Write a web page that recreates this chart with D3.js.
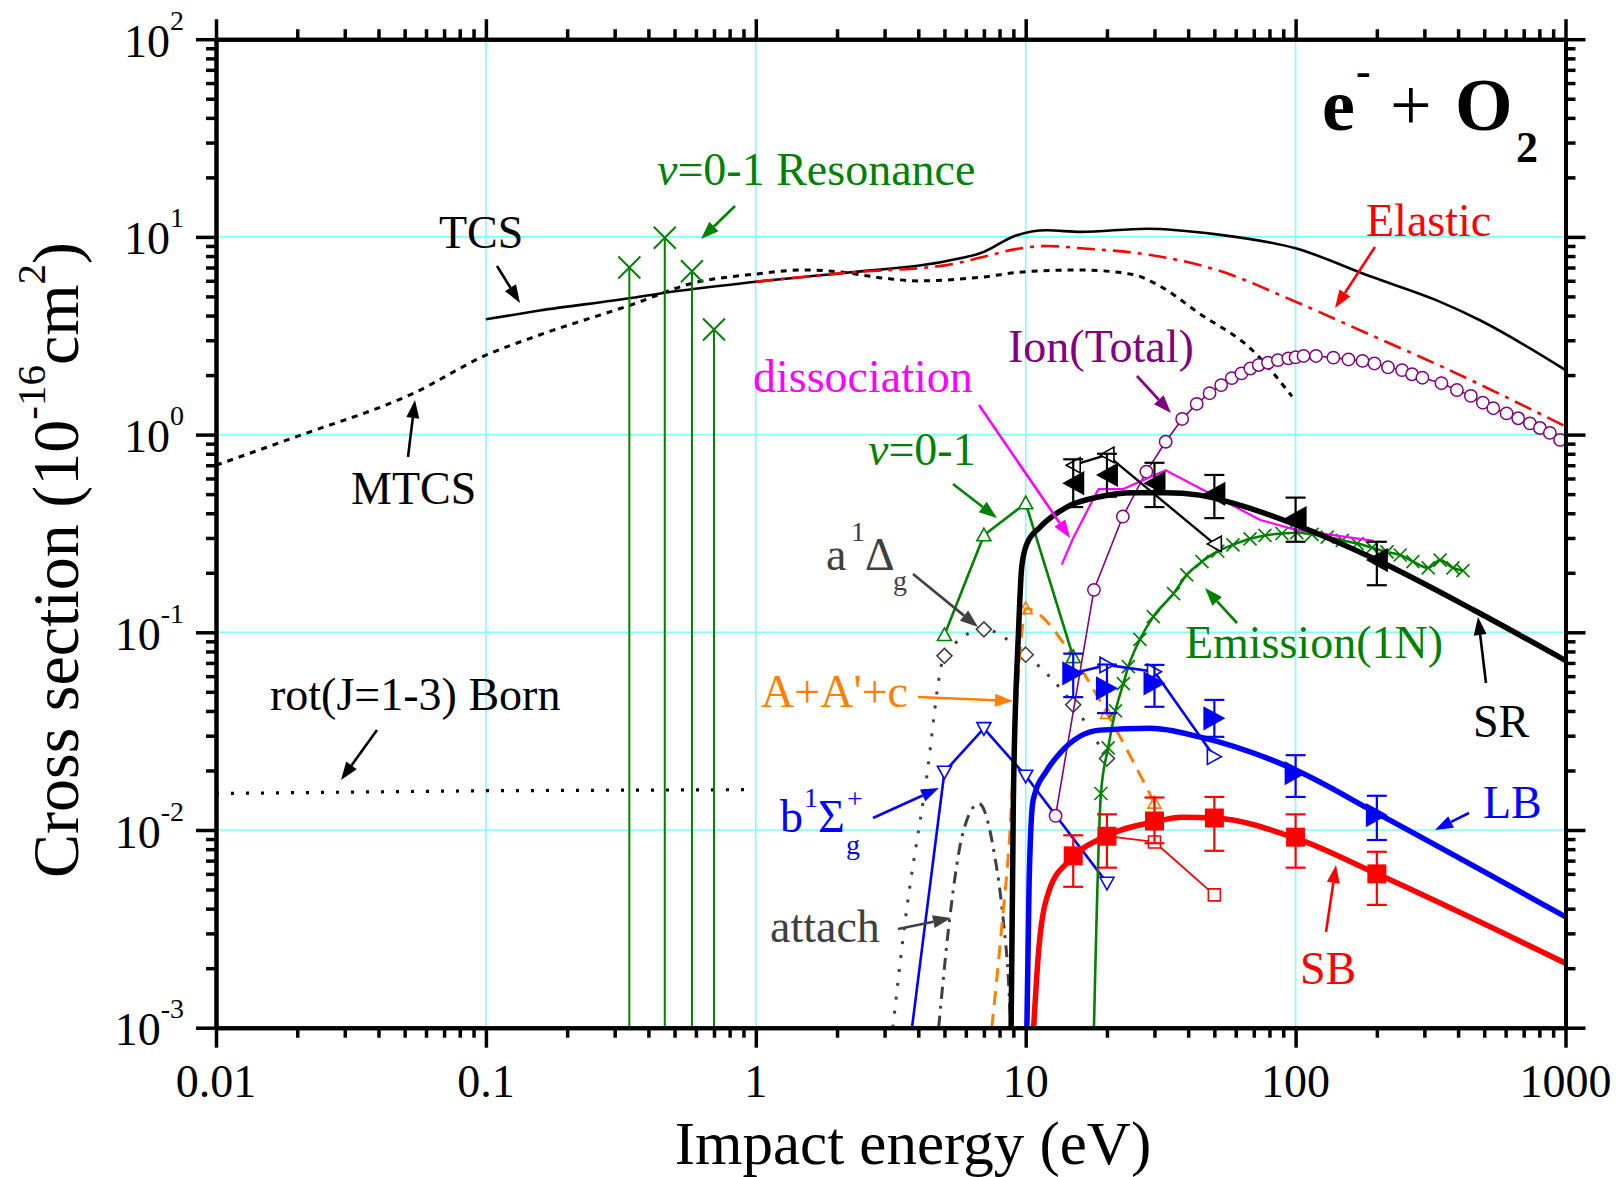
<!DOCTYPE html>
<html>
<head>
<meta charset="utf-8">
<script src="https://cdn.jsdelivr.net/npm/d3@7"></script>
<style>
body { margin: 0; background: #fff; }
svg { display: block; }
text { font-family: "Liberation Serif", "Times New Roman", serif; }
</style>
</head>
<body>
<div id="chart"></div>
<script>
// ---- data: [energy eV, cross section 1e-16 cm2] ----
const tcs = [[0.1,3.83],[0.158,4.24],[0.35,4.92],[0.46,5.22],[1,5.93],[2.2,6.6],[5.1,7.55],[7,8.4],[9.1,10.1],[12,10.8],[16,10.6],[28,11.0],[51,10.3],[100,8.75],[190,6.3],[330,4.8],[480,3.8],[1000,2.12]];
const mtcs = [[0.01,0.70],[0.02,0.98],[0.054,1.62],[0.1,2.52],[0.158,3.19],[0.35,4.56],[0.58,5.82],[1,6.49],[1.5,6.8],[2,6.67],[3,6.18],[4,5.99],[6.8,6.25],[10,6.67],[16,6.8],[25,6.45],[31,5.7],[44,4.1],[69,2.68],[97,1.56]];
const elastic = [[1,5.93],[2.2,6.6],[5.1,7.2],[7,7.94],[9.1,8.65],[12,9.0],[16,8.76],[29,8.1],[51,6.81],[100,4.7],[190,3.19],[350,2.2],[1000,1.1]];
const rotBorn = [[0.01,0.0153],[0.1,0.0158],[1,0.016]];
const resonance = [[0.34,7.0],[0.46,9.9],[0.58,6.7],[0.70,3.4]];
const vib01 = [[5,0.097],[7,0.31],[10,0.45],[15,0.075]];
const a1DgCurve = [[3.22,0.001],[3.57,0.0034],[4.25,0.0166],[5,0.076],[7,0.1035],[10,0.077],[15,0.043],[20,0.023]];
const a1DgPts = [[5,0.076],[7,0.1035],[10,0.077],[15,0.043],[20,0.023]];
const b1Sg = [[3.79,0.001],[5,0.0197],[7,0.0327],[10,0.0188],[20,0.0054]];
const attach = [[4.76,0.001],[5.22,0.0035],[5.89,0.01],[6.71,0.0136],[7.65,0.0076],[8.26,0.0035],[8.63,0.00174],[8.8,0.001]];
const aacCurve = [[7.49,0.001],[8.13,0.0031],[8.75,0.01],[9.27,0.0455],[9.67,0.099],[10,0.132],[15,0.075],[20,0.039],[30,0.0137]];
const aacPts = [[10,0.132],[15,0.075],[20,0.039],[30,0.0137]];
const dissoc = [[13.6,0.22],[15,0.30],[18.6,0.53],[23,0.53],[33,0.66],[74,0.37],[100,0.33],[195,0.29]];
const ionTotal = [[12.9,0.0118],[17.9,0.164],[22.9,0.385],[28,0.65],[33,0.92],[38,1.2],[43,1.43],[48,1.62],[53,1.78],[58,1.93],[63,2.04],[68,2.16],[73,2.25],[79,2.31],[86,2.38],[94,2.43],[100,2.46],[107,2.5],[119,2.5],[138,2.45],[157,2.4],[177,2.36],[196,2.29],[220,2.19],[248,2.12],[270,2.02],[295,1.94],[347,1.82],[396,1.68],[446,1.57],[494,1.45],[540,1.36],[605,1.28],[668,1.21],[738,1.14],[804,1.08],[875,1.02],[955,0.94]];
const emission = [[17.9,0.001],[19,0.0153],[20.2,0.026],[21.5,0.04],[23,0.055],[24,0.067],[26.5,0.092],[29.7,0.12],[35.3,0.157],[39.5,0.195],[45,0.228],[51.5,0.257],[58.6,0.277],[67.8,0.297],[77,0.309],[89,0.316],[101,0.319],[115,0.313],[131,0.303],[149,0.292],[169,0.281],[192,0.268],[218,0.255],[244,0.246],[272,0.228],[310,0.212],[343,0.232],[383,0.212],[417,0.205]];
const srCurve = [[8.83,0.001],[9.0,0.014],[9.4,0.099],[9.67,0.215],[10.1,0.28],[11.3,0.34],[14.2,0.43],[18.8,0.485],[25,0.508],[33,0.508],[44,0.494],[62,0.44],[100,0.35],[200,0.232],[455,0.13],[1000,0.072]];
const srPts = [[15,0.568],[20,0.625],[30,0.568],[50,0.501],[100,0.378],[200,0.232]];
const srErr = [[0.43,0.75],[0.485,0.80],[0.43,0.72],[0.378,0.625],[0.287,0.48],[0.173,0.287]];
const srOld = [[15,0.70],[20,0.79],[50,0.28]];
const lbCurve = [[10.1,0.001],[10.3,0.0056],[10.66,0.0142],[12,0.0201],[13.4,0.0245],[18.8,0.032],[29,0.0327],[44,0.0296],[100,0.0201],[199,0.0122],[1000,0.00364]];
const lbPts = [[15,0.062],[20,0.0521],[30,0.0552],[50,0.0367],[100,0.0194],[200,0.0119]];
const lbErr = [[0.047,0.078],[0.039,0.0687],[0.042,0.0684],[0.0296,0.0455],[0.0147,0.0239],[0.0089,0.0149]];
const lbOld = [[15,0.062],[20,0.0684],[30,0.0632],[50,0.0235]];
const sbCurve = [[10.7,0.001],[11.2,0.00257],[12.25,0.005],[14.6,0.00705],[19.8,0.0093],[30,0.011],[38,0.0116],[50,0.0115],[100,0.0091],[200,0.006],[1000,0.00212]];
const sbPts = [[15,0.0074],[20,0.0093],[30,0.0111],[50,0.0115],[100,0.0092],[200,0.006]];
const sbErr = [[0.00516,0.0094],[0.00645,0.012],[0.00857,0.0146],[0.00785,0.0147],[0.00645,0.012],[0.00418,0.00776]];
const sbOld = [[20,0.0093],[30,0.0087],[50,0.0047]];

const xTicks = [0.01, 0.1, 1, 10, 100, 1000];
const xTickLabels = ["0.01", "0.1", "1", "10", "100", "1000"];
const yExps = [-3, -2, -1, 0, 1, 2];

// ---- layout ----
const W = 1620, H = 1177;
const L = 216, R = 1565.5, T = 39.2, B = 1027.7;
const GREEN = "#008000", RED = "#ff0000", BLUE = "#0000ff", MAG = "#ff00ff",
      PURP = "#800080", ORANGE = "#ff8000", GRAY = "#404040";

const svg = d3.select("#chart").append("svg")
    .attr("width", W).attr("height", H);

const x = d3.scaleLog().domain([0.01, 1000]).range([L, R]);
const y = d3.scaleLog().domain([0.001, 100]).range([B, T]);

// minor tick positions
const minorX = [], minorY = [];
for (let d = -2; d < 3; d++) for (let k = 2; k < 10; k++) minorX.push(k * 10 ** d);
for (let d = -3; d < 2; d++) for (let k = 2; k < 10; k++) minorY.push(k * 10 ** d);

// grid
const grid = svg.append("g").attr("stroke", "#80ffff").attr("stroke-width", 1.6);
xTicks.forEach(v => grid.append("line").attr("x1", x(v)).attr("x2", x(v)).attr("y1", T).attr("y2", B));
yExps.forEach(e => grid.append("line").attr("y1", y(10 ** e)).attr("y2", y(10 ** e)).attr("x1", L).attr("x2", R));

svg.append("clipPath").attr("id", "clip").append("rect")
    .attr("x", L).attr("y", T).attr("width", R - L).attr("height", B - T);
const plot = svg.append("g").attr("clip-path", "url(#clip)");

const lineLin = d3.line().x(d => x(d[0])).y(d => y(d[1]));
const lineSmooth = d3.line().x(d => x(d[0])).y(d => y(d[1])).curve(d3.curveMonotoneX);

function drawLine(data, gen, color, width, dash) {
    plot.append("path").datum(data)
        .attr("d", gen)
        .attr("fill", "none")
        .attr("stroke", color)
        .attr("stroke-width", width)
        .attr("stroke-dasharray", dash || null)
        .attr("stroke-linejoin", "round");
}

function shape(type, s) {
    const h = s / 2;
    switch (type) {
        case "triL": return `M${-h},0L${h},${-h * 1.1}L${h},${h * 1.1}Z`;
        case "triR": return `M${h},0L${-h},${-h * 1.1}L${-h},${h * 1.1}Z`;
        case "triU": return `M0,${-h}L${h},${h * 0.8}L${-h},${h * 0.8}Z`;
        case "triD": return `M0,${h}L${h},${-h * 0.8}L${-h},${-h * 0.8}Z`;
        case "dia": return `M0,${-h}L${h},0L0,${h}L${-h},0Z`;
        case "sq": return `M${-h},${-h}H${h}V${h}H${-h}Z`;
        case "x": return `M${-h},${-h}L${h},${h}M${-h},${h}L${h},${-h}`;
    }
}

function drawMarkers(data, type, size, fill, stroke, sw) {
    plot.append("g").selectAll("path").data(data).join("path")
        .attr("transform", d => `translate(${x(d[0])},${y(d[1])})`)
        .attr("d", shape(type, size))
        .attr("fill", fill)
        .attr("stroke", stroke)
        .attr("stroke-width", sw);
}

function drawErr(pts, err, color) {
    const g = plot.append("g").attr("stroke", color).attr("stroke-width", 2.2);
    pts.forEach((p, i) => {
        const cx = x(p[0]), y0 = y(err[i][0]), y1 = y(err[i][1]);
        g.append("line").attr("x1", cx).attr("x2", cx).attr("y1", y0).attr("y2", y1);
        g.append("line").attr("x1", cx - 10).attr("x2", cx + 10).attr("y1", y0).attr("y2", y0);
        g.append("line").attr("x1", cx - 10).attr("x2", cx + 10).attr("y1", y1).attr("y2", y1);
    });
}

// ---- series ----
drawLine(rotBorn, lineLin, "#000", 3.2, "3,12");
drawLine(mtcs, lineSmooth, "#000", 3, "6,6");
drawLine(tcs, lineSmooth, "#000", 2.6);
drawLine(elastic, lineSmooth, RED, 2.6, "18,7,4,7");

// v=0-1 resonance sticks
resonance.forEach(d => {
    plot.append("line").attr("x1", x(d[0])).attr("x2", x(d[0]))
        .attr("y1", y(d[1])).attr("y2", B).attr("stroke", GREEN).attr("stroke-width", 2);
});
drawMarkers(resonance, "x", 22, "none", GREEN, 2);

drawLine(a1DgCurve, lineSmooth, GRAY, 3, "3,11");
drawMarkers(a1DgPts, "dia", 15, "#fff", GRAY, 1.6);
drawLine(attach, lineSmooth, GRAY, 3, "12,7,3,7");
drawLine(aacCurve, lineSmooth, ORANGE, 3, "14,9");
drawMarkers(aacPts, "triU", 13, "none", ORANGE, 1.6);

drawLine(vib01, lineLin, GREEN, 2.6);
drawMarkers(vib01, "triU", 14, "#fff", GREEN, 1.6);
drawLine(b1Sg, lineLin, BLUE, 2.6);
drawMarkers(b1Sg.slice(1), "triD", 14, "#fff", BLUE, 1.6);

drawLine(emission, lineSmooth, GREEN, 2.6);
drawMarkers(emission.slice(1), "x", 13, "none", GREEN, 1.7);

drawLine(ionTotal, lineLin, PURP, 1.6);
plot.append("g").selectAll("circle").data(ionTotal).join("circle")
    .attr("cx", d => x(d[0])).attr("cy", d => y(d[1])).attr("r", 6.2)
    .attr("fill", "#fff").attr("stroke", PURP).attr("stroke-width", 1.5);

drawLine(dissoc, lineLin, MAG, 2.2);

// SB
drawLine(sbCurve, lineSmooth, RED, 5.5);
drawLine(sbOld, lineLin, RED, 1.8);
drawMarkers(sbOld.slice(1), "sq", 12, "#fff", RED, 1.6);
drawErr(sbPts, sbErr, RED);
drawMarkers(sbPts, "sq", 19, RED, RED, 0);

// LB
drawLine(lbCurve, lineSmooth, BLUE, 5.5);
drawLine(lbOld, lineLin, BLUE, 2.6);
drawMarkers(lbOld.slice(1), "triR", 14, "#fff", BLUE, 1.6);
drawErr(lbPts, lbErr, BLUE);
drawMarkers(lbPts, "triR", 22, BLUE, BLUE, 0);

// SR
drawLine(srCurve, lineSmooth, "#000", 5.5);
drawLine(srOld, lineLin, "#000", 2.4);
drawMarkers(srOld, "triL", 14, "#fff", "#000", 1.6);
drawErr(srPts, srErr, "#000");
drawMarkers(srPts, "triL", 22, "#000", "#000", 0);

// ---- axes ----
function styleAxis(g) {
    g.selectAll("path.domain").attr("stroke", "#000").attr("stroke-width", 4);
    g.selectAll(".tick line").attr("stroke", "#000").attr("stroke-width", 3.5);
    g.selectAll(".tick text").remove();
}
const axes = [
    [d3.axisBottom(x), `translate(0,${B})`, minorX, xTicks],
    [d3.axisTop(x), `translate(0,${T})`, minorX, xTicks],
    [d3.axisLeft(y), `translate(${L},0)`, minorY, yExps.map(e => 10 ** e)],
    [d3.axisRight(y), `translate(${R},0)`, minorY, yExps.map(e => 10 ** e)]
];
axes.forEach(([ax, tr, minor, major]) => {
    svg.append("g").attr("transform", tr)
        .call(ax.tickValues(minor).tickSize(10).tickSizeOuter(0).tickFormat(""))
        .call(styleAxis);
    svg.append("g").attr("transform", tr)
        .call(ax.tickValues(major).tickSize(20).tickSizeOuter(0).tickFormat(""))
        .call(styleAxis);
});

// tick labels
xTicks.forEach((v, i) => {
    svg.append("text").attr("x", x(v)).attr("y", B + 69)
        .attr("text-anchor", "middle").attr("font-size", 46).text(xTickLabels[i]);
});
yExps.forEach(e => {
    const t = svg.append("text").attr("x", 184).attr("y", y(10 ** e) + 17.5)
        .attr("text-anchor", "end").attr("font-size", 46);
    t.append("tspan").text("10");
    t.append("tspan").attr("dy", -27).attr("font-size", 28).text(String(e));
});

// axis titles
svg.append("text").attr("x", 913).attr("y", 1164)
    .attr("text-anchor", "middle").attr("font-size", 61).text("Impact energy (eV)");
const yt = svg.append("text").attr("transform", "translate(78,560) rotate(-90)")
    .attr("text-anchor", "middle").attr("font-size", 66);
yt.append("tspan").text("Cross section (10");
yt.append("tspan").attr("dy", -33).attr("font-size", 41).text("-16");
yt.append("tspan").attr("dy", 33).text("cm");
yt.append("tspan").attr("dy", -33).attr("font-size", 41).text("2");
yt.append("tspan").attr("dy", 33).text(")");

// title e- + O2
const ttl = svg.append("text").attr("font-size", 74).attr("font-weight", "bold");
ttl.append("tspan").attr("x", 1322).attr("y", 130).text("e");
ttl.append("tspan").attr("x", 1356).attr("y", 86).attr("font-size", 44).text("-");
ttl.append("tspan").attr("x", 1390).attr("y", 130).attr("font-weight", "normal").text("+");
ttl.append("tspan").attr("x", 1455).attr("y", 130).text("O");
ttl.append("tspan").attr("x", 1516).attr("y", 162).attr("font-size", 44).text("2");

// ---- annotations ----
const FS = 46;
function label(txt, px, py, color, anchor) {
    return svg.append("text").attr("x", px).attr("y", py).attr("fill", color)
        .attr("font-size", FS).attr("text-anchor", anchor || "start").text(txt);
}
function arrow(x1, y1, x2, y2, color) {
    const a = Math.atan2(y2 - y1, x2 - x1), len = 18, hw = 6.5;
    const bx = x2 - len * Math.cos(a), by = y2 - len * Math.sin(a);
    svg.append("line").attr("x1", x1).attr("y1", y1).attr("x2", bx).attr("y2", by)
        .attr("stroke", color).attr("stroke-width", 2.6);
    const p = [[x2, y2],
        [bx + hw * Math.sin(a), by - hw * Math.cos(a)],
        [bx - hw * Math.sin(a), by + hw * Math.cos(a)]];
    svg.append("path").attr("d", "M" + p.join("L") + "Z").attr("fill", color);
}

label("TCS", 439, 248, "#000");
arrow(497, 266, 520, 303, "#000");
label("MTCS", 351, 504, "#000");
arrow(408, 457, 415, 400, "#000");
label("rot(J=1-3) Born", 270, 710, "#000");
arrow(377, 730, 341, 780, "#000");

const res = svg.append("text").attr("x", 657).attr("y", 185).attr("fill", GREEN).attr("font-size", FS);
res.append("tspan").attr("font-style", "italic").text("v");
res.append("tspan").text("=0-1 Resonance");
arrow(735, 206, 701, 239, GREEN);

label("Elastic", 1366, 236, RED);
arrow(1375, 247, 1335, 308, RED);
label("Ion(Total)", 1008, 362, PURP);
arrow(1137, 376, 1171, 413, PURP);
label("dissociation", 753, 392, MAG);
arrow(979, 405, 1070, 538, MAG);

const v01 = svg.append("text").attr("x", 868).attr("y", 465).attr("fill", GREEN).attr("font-size", FS);
v01.append("tspan").attr("font-style", "italic").text("v");
v01.append("tspan").text("=0-1");
arrow(953, 484, 997, 518, GREEN);

const aD = svg.append("text").attr("fill", GRAY).attr("font-size", FS);
aD.append("tspan").attr("x", 826).attr("y", 570).text("a");
aD.append("tspan").attr("x", 851).attr("y", 541).attr("font-size", 28).text("1");
aD.append("tspan").attr("x", 865).attr("y", 570).text("Δ");
aD.append("tspan").attr("x", 893).attr("y", 590).attr("font-size", 28).text("g");
arrow(913, 574, 978, 627, GRAY);

label("A+A'+c", 761, 707, ORANGE);
arrow(918, 697, 1013, 701, ORANGE);

const bS = svg.append("text").attr("fill", BLUE).attr("font-size", FS);
bS.append("tspan").attr("x", 780).attr("y", 832).text("b");
bS.append("tspan").attr("x", 804).attr("y", 807).attr("font-size", 28).text("1");
bS.append("tspan").attr("x", 818).attr("y", 832).text("Σ");
bS.append("tspan").attr("x", 846).attr("y", 854).attr("font-size", 28).text("g");
bS.append("tspan").attr("x", 847).attr("y", 808).attr("font-size", 28).text("+");
arrow(873, 818, 939, 788, BLUE);

label("attach", 770, 942, GRAY);
arrow(898, 929, 951, 918, GRAY);
label("Emission(1N)", 1443, 658, GREEN, "end");
arrow(1237, 623, 1205, 588, GREEN);
label("SR", 1473, 737, "#000");
arrow(1486, 683, 1478, 617, "#000");
label("LB", 1483, 818, BLUE);
arrow(1469, 813, 1435, 830, BLUE);
label("SB", 1300, 984, RED);
arrow(1326, 932, 1336, 865, RED);
</script>
</body>
</html>
